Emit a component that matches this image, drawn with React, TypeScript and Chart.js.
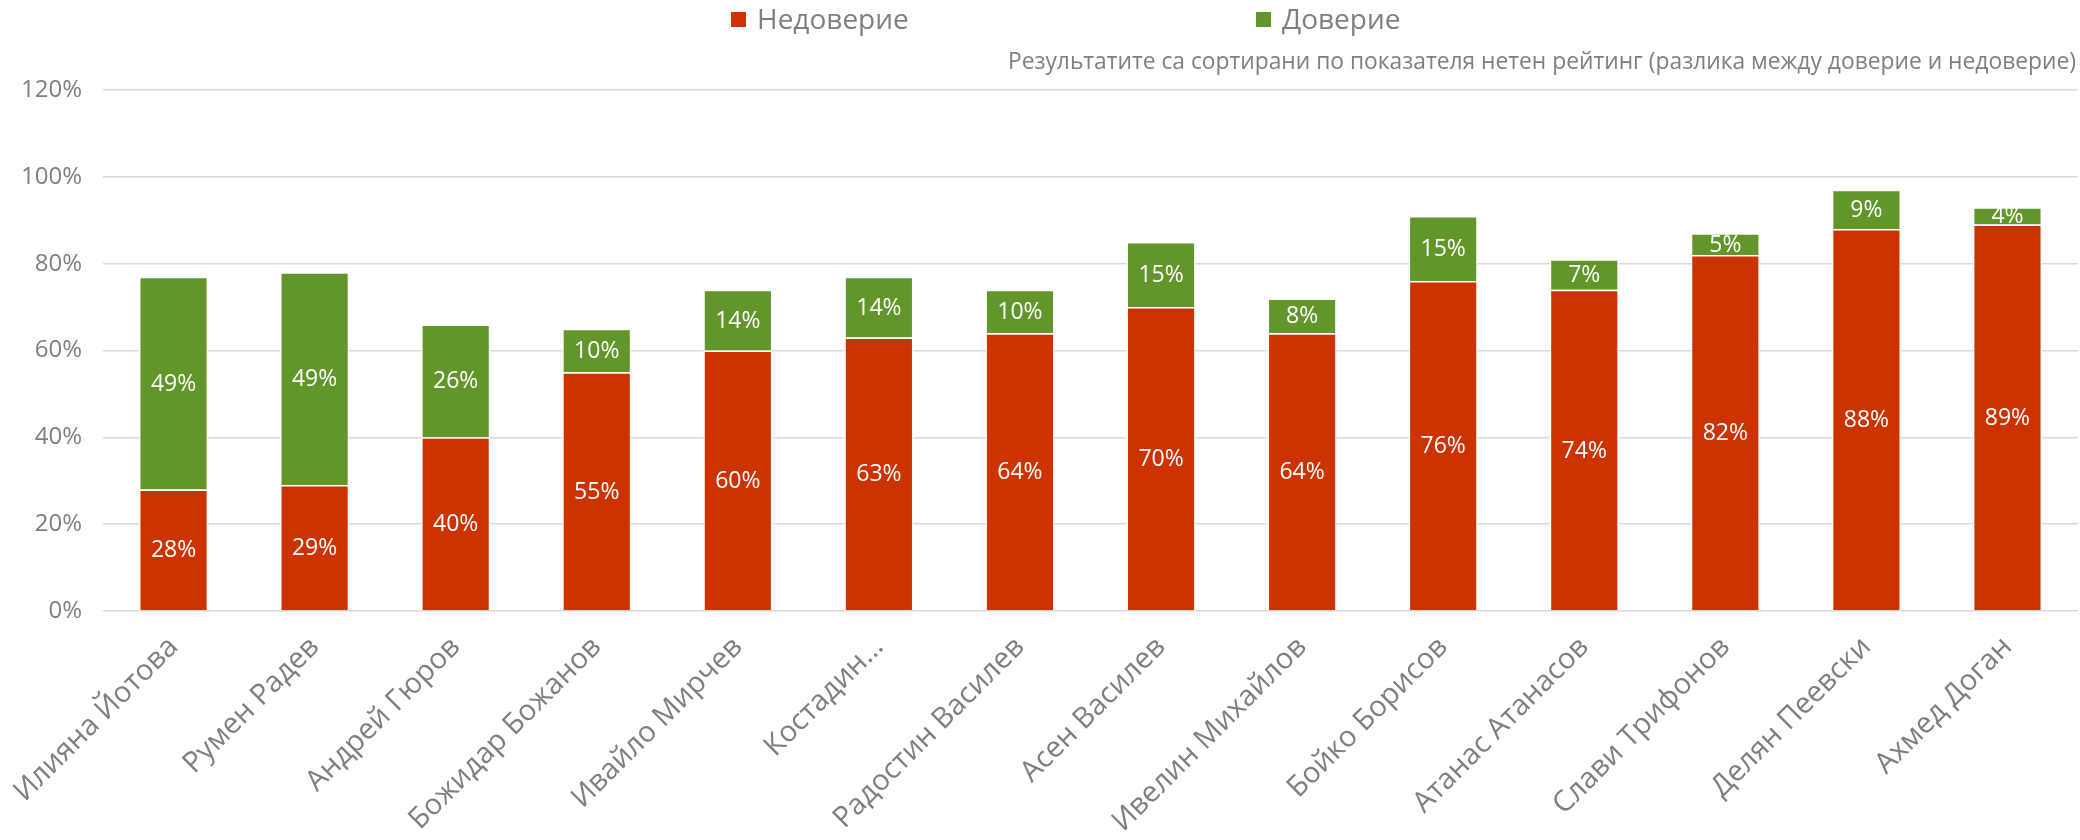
import React, { useEffect, useRef } from "react";
import { Chart, registerables } from "chart.js";

Chart.register(...registerables);

const categories = [
  "Илияна Йотова",
  "Румен Радев",
  "Андрей Гюров",
  "Божидар Божанов",
  "Ивайло Мирчев",
  "Костадин…",
  "Радостин Василев",
  "Асен Василев",
  "Ивелин Михайлов",
  "Бойко Борисов",
  "Атанас Атанасов",
  "Слави Трифонов",
  "Делян Пеевски",
  "Ахмед Доган",
];

const distrust = [28, 29, 40, 55, 60, 63, 64, 70, 64, 76, 74, 82, 88, 89];
const trust = [49, 49, 26, 10, 14, 14, 10, 15, 8, 15, 7, 5, 9, 4];

const yTicks = [0, 20, 40, 60, 80, 100, 120];

const seriesNames = ["Недоверие", "Доверие"];
const subtitleText =
  "Результатите са сортирани по показателя нетен рейтинг (разлика между доверие и недоверие)";

const RED = "#CC3300";
const GREEN = "#62952A";
const GREY = "#7f7f7f";
const GRID = "#d9d9d9";
const FONT = "'Open Sans', sans-serif";

const valueLabelsPlugin = {
  id: "valueLabels",
  afterDatasetsDraw(chart: any) {
    const ctx = chart.ctx;
    ctx.save();
    ctx.fillStyle = "#ffffff";
    ctx.font = `23px ${FONT}`;
    ctx.textAlign = "center";
    ctx.textBaseline = "middle";
    chart.data.datasets.forEach((ds: any, di: number) => {
      const meta = chart.getDatasetMeta(di);
      meta.data.forEach((el: any, i: number) => {
        const p = el.getProps(["x", "y", "base"], true);
        const cy = (p.y + p.base) / 2;
        ctx.fillText(`${ds.data[i]}%`, p.x, cy + 1);
      });
    });
    ctx.restore();
  },
};

const headerPlugin = {
  id: "header",
  afterDraw(chart: any) {
    const ctx = chart.ctx;
    ctx.save();
    const colors = [RED, GREEN];
    const xs = [731, 1256];
    ctx.font = `28px ${FONT}`;
    ctx.textBaseline = "middle";
    ctx.textAlign = "left";
    seriesNames.forEach((name, i) => {
      ctx.fillStyle = colors[i];
      ctx.fillRect(xs[i], 12, 15, 15);
      ctx.fillStyle = GREY;
      ctx.fillText(name, xs[i] + 26, 21);
    });
    ctx.font = `22.8px ${FONT}`;
    ctx.textAlign = "right";
    ctx.fillStyle = GREY;
    ctx.fillText(subtitleText, chart.width - 4, 63);
    ctx.restore();
  },
};

export default function App() {
  const ref = useRef<HTMLCanvasElement | null>(null);

  useEffect(() => {
    if (!ref.current) return;
    const chart = new Chart(ref.current, {
      type: "bar",
      data: {
        labels: categories,
        datasets: [
          {
            label: seriesNames[0],
            data: distrust,
            backgroundColor: RED,
            borderColor: "#ffffff",
            borderWidth: 1.5,
            barPercentage: 0.49,
            categoryPercentage: 1,
          },
          {
            label: seriesNames[1],
            data: trust,
            backgroundColor: GREEN,
            borderColor: "#ffffff",
            borderWidth: 1.5,
            barPercentage: 0.49,
            categoryPercentage: 1,
          },
        ],
      },
      plugins: [valueLabelsPlugin, headerPlugin],
      options: {
        responsive: false,
        animation: false,
        devicePixelRatio: 1,
        layout: { padding: { top: 90, left: 0, right: 2, bottom: 0 } },
        plugins: {
          legend: { display: false },
          tooltip: { enabled: false },
          title: { display: false },
        },
        scales: {
          x: {
            stacked: true,
            grid: { display: false, drawTicks: false },
            border: { display: false },
            ticks: {
              autoSkip: false,
              minRotation: 45,
              maxRotation: 45,
              padding: 19,
              color: GREY,
              font: { family: FONT, size: 29 },
            },
            afterFit(scale: any) {
              scale.height = 229;
              scale.paddingLeft = 0;
              scale.paddingRight = 0;
            },
          },
          y: {
            stacked: true,
            min: 0,
            max: 120,
            afterBuildTicks(scale: any) {
              scale.ticks = yTicks.map((v) => ({ value: v }));
            },
            grid: { color: GRID, lineWidth: 1.5, drawTicks: false },
            border: { display: false },
            ticks: {
              padding: 21,
              color: GREY,
              font: { family: FONT, size: 24 },
              callback: (v: any) => `${v}%`,
            },
            afterFit(scale: any) {
              scale.width = 103;
            },
          },
        },
      },
    });
    return () => chart.destroy();
  }, []);

  return (
    <div style={{ width: 2080, height: 840 }}>
      <style>{`body{margin:0;overflow:hidden}`}</style>
      <canvas ref={ref} width={2080} height={840} style={{ display: "block" }} />
    </div>
  );
}
